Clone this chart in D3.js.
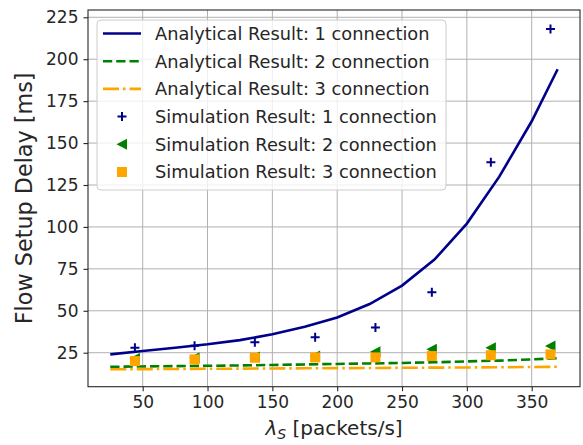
<!DOCTYPE html>
<html>
<head>
<meta charset="utf-8">
<script src="https://cdn.jsdelivr.net/npm/d3@7"></script>
<style>
  body { margin: 0; background: #fff; }
  text { font-family: "DejaVu Sans", sans-serif; fill: #262626; }
</style>
</head>
<body>
<div id="chart"></div>
<script>
// analytical curves (lambda_S in packets/s, delay in ms)
var lambdaAnalytic = [25, 50, 75, 100, 125, 150, 175, 200, 225, 250, 275, 300, 325, 350, 370];
var analytic1 = [24, 26, 28, 30, 32.5, 36, 40.5, 46, 54, 65, 80.5, 102, 130, 163, 194];
var analytic2 = [16.6, 16.8, 17, 17.2, 17.4, 17.7, 18, 18.3, 18.6, 18.9, 19.3, 19.8, 20.3, 21, 21.7];
var analytic3 = [15.1, 15.2, 15.3, 15.4, 15.5, 15.6, 15.7, 15.8, 15.9, 16, 16.1, 16.2, 16.3, 16.5, 16.6];

// simulation points
var lambdaSim = [44, 90, 136.5, 183, 229.5, 273, 318.5, 364.5];
var sim1 = [28, 29.2, 31.2, 34.2, 40, 61, 138.5, 218];
var sim2 = [21.5, 22, 22.5, 23, 25.6, 27, 28, 29];
var sim3 = [20, 21, 22, 22.2, 22.2, 23, 23.5, 24];

var xTicks = [50, 100, 150, 200, 250, 300, 350];
var yTicks = [25, 50, 75, 100, 125, 150, 175, 200, 225];

var legendLabels = [
    "Analytical Result: 1 connection",
    "Analytical Result: 2 connection",
    "Analytical Result: 3 connection",
    "Simulation Result: 1 connection",
    "Simulation Result: 2 connection",
    "Simulation Result: 3 connection"
];

var W = 583, H = 445;
var margin = { top: 10, right: 3, bottom: 58.3, left: 88 };
var width = W - margin.left - margin.right;
var height = H - margin.top - margin.bottom;

var svg = d3.select("#chart").append("svg")
    .attr("width", W)
    .attr("height", H);

var g = svg.append("g")
    .attr("transform", `translate(${margin.left},${margin.top})`);

var x = d3.scaleLinear().domain([7.82, 387.25]).range([0, width]);
var y = d3.scaleLinear().domain([4.73, 229.35]).range([height, 0]);

// grid
g.append("g").selectAll("line").data(xTicks).join("line")
    .attr("x1", d => x(d)).attr("x2", d => x(d))
    .attr("y1", 0).attr("y2", height)
    .attr("stroke", "#b0b0b0").attr("stroke-width", 1);
g.append("g").selectAll("line").data(yTicks).join("line")
    .attr("x1", 0).attr("x2", width)
    .attr("y1", d => y(d)).attr("y2", d => y(d))
    .attr("stroke", "#b0b0b0").attr("stroke-width", 1);

// axes
var xAxis = g.append("g")
    .attr("transform", `translate(0,${height})`)
    .call(d3.axisBottom(x).tickValues(xTicks).tickSizeOuter(0).tickSize(4.5).tickPadding(5));
var yAxis = g.append("g")
    .call(d3.axisLeft(y).tickValues(yTicks).tickSizeOuter(0).tickSize(4.5).tickPadding(5));
[xAxis, yAxis].forEach(a => {
    a.select(".domain").remove();
    a.selectAll("line").attr("stroke", "#262626").attr("stroke-width", 1.1);
    a.selectAll("text").attr("font-size", "17px").attr("fill", "#262626")
        .attr("font-family", "DejaVu Sans");
});

// frame
g.append("rect")
    .attr("width", width).attr("height", height)
    .attr("fill", "none").attr("stroke", "#262626").attr("stroke-width", 1.1);

var series = [
    { v: analytic1, color: "#00008b", dash: null },
    { v: analytic2, color: "green", dash: "9.25,4" },
    { v: analytic3, color: "orange", dash: "16,4,2.5,4" }
];

var line = d3.line()
    .x(d => x(d[0]))
    .y(d => y(d[1]));

series.forEach(s => {
    g.append("path")
        .datum(lambdaAnalytic.map((l, i) => [l, s.v[i]]))
        .attr("fill", "none")
        .attr("stroke", s.color)
        .attr("stroke-width", 2.6)
        .attr("stroke-dasharray", s.dash)
        .attr("d", line);
});

function plus(sel, c) {
    sel.append("path").attr("d", "M-4.5,0H4.5M0,-4.5V4.5")
        .attr("stroke", c).attr("stroke-width", 2).attr("fill", "none");
}
function triLeft(sel, c) {
    sel.append("path").attr("d", "M-5.5,0L5,-5.5L5,5.5Z").attr("fill", c);
}
function square(sel, c) {
    sel.append("rect").attr("x", -5).attr("y", -5).attr("width", 10).attr("height", 10).attr("fill", c);
}

var sims = [
    { v: sim1, color: "#00008b", mark: plus },
    { v: sim2, color: "green", mark: triLeft },
    { v: sim3, color: "orange", mark: square }
];

sims.forEach(s => {
    lambdaSim.forEach((l, i) => {
        var m = g.append("g").attr("transform", `translate(${x(l)},${y(s.v[i])})`);
        s.mark(m, s.color);
    });
});

// legend
var legend = svg.append("g").attr("transform", "translate(97,20)");
legend.append("rect")
    .attr("width", 349).attr("height", 170)
    .attr("rx", 4).attr("ry", 4)
    .attr("fill", "white").attr("fill-opacity", 0.8)
    .attr("stroke", "#cccccc").attr("stroke-width", 1);

legendLabels.forEach((label, i) => {
    var row = legend.append("g").attr("transform", `translate(0,${13.5 + i * 27.7})`);
    if (i < 3) {
        row.append("line")
            .attr("x1", 6).attr("x2", 44)
            .attr("stroke", series[i].color)
            .attr("stroke-width", 2.6)
            .attr("stroke-dasharray", series[i].dash);
    } else {
        var m = row.append("g").attr("transform", "translate(25,0)");
        sims[i - 3].mark(m, sims[i - 3].color);
    }
    row.append("text")
        .attr("x", 58)
        .attr("dy", "0.36em")
        .attr("font-size", "17.8px")
        .text(label);
});

// axis labels
svg.append("text")
    .attr("transform", `translate(31.5,${margin.top + height / 2}) rotate(-90)`)
    .attr("text-anchor", "middle")
    .attr("font-size", "22.3px")
    .text("Flow Setup Delay [ms]");

var xl = svg.append("text")
    .attr("x", margin.left + width / 2)
    .attr("y", 435)
    .attr("text-anchor", "middle")
    .attr("font-size", "20px");
xl.append("tspan").attr("font-style", "italic").text("λ");
xl.append("tspan").attr("font-style", "italic").attr("font-size", "14px").attr("dy", 4).text("S");
xl.append("tspan").attr("dy", -4).text(" [packets/s]");
</script>
</body>
</html>
